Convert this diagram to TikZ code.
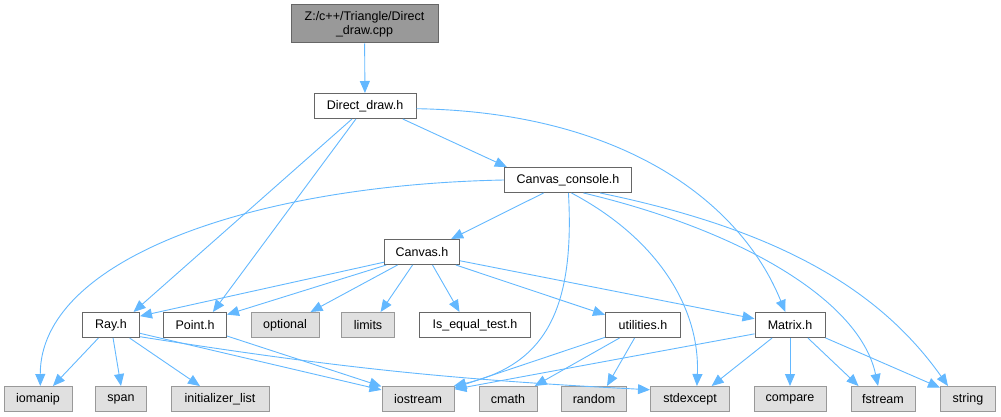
\documentclass[tikz,border=0pt]{standalone}
\usepackage{fontspec}
\setmainfont{Liberation Sans}
\usetikzlibrary{arrows.meta}
\definecolor{edgeBlue}{HTML}{63B8FF}
\definecolor{boxGray}{HTML}{666666}
\definecolor{sysFill}{HTML}{E0E0E0}
\definecolor{sysGray}{HTML}{999999}

\begin{document}
\begin{tikzpicture}[x=1pt, y=-1pt,
    fileNode/.style={draw=boxGray, fill=white, line width=1pt, minimum height=25pt, inner sep=0pt, font=\fontsize{12.5}{14}\selectfont},
    sysNode/.style={fileNode, draw=sysGray, fill=sysFill},
    rootNode/.style={fileNode, fill=sysGray, draw=boxGray, minimum height=38pt, align=center},
    dep/.style={edgeBlue, line width=0.9pt, -{Triangle[length=12pt, width=10pt]}}]
  \useasboundingbox (0,0) rectangle (1001,417);
  \node[rootNode, minimum width=147pt] (root) at (364.5,24) {Z:/c++/Triangle/Direct\\\_draw.cpp};
  \node[fileNode, minimum width=102pt] (direct) at (365,106) {Direct\_draw.h};
  \node[fileNode, minimum width=127pt] (console) at (568,180) {Canvas\_console.h};
  \node[fileNode, minimum width=75pt] (canvas) at (422,252) {Canvas.h};
  \node[fileNode, minimum width=57pt] (ray) at (111,325) {Ray.h};
  \node[fileNode, minimum width=63pt] (point) at (195,325) {Point.h};
  \node[sysNode, minimum width=68pt] (optional) at (285,325) {optional};
  \node[sysNode, minimum width=53pt] (limits) at (368,325) {limits};
  \node[fileNode, minimum width=111pt] (isequal) at (475,325) {Is\_equal\_test.h};
  \node[fileNode, minimum width=75pt] (utilities) at (643,325) {utilities.h};
  \node[fileNode, minimum width=70pt] (matrix) at (790,325) {Matrix.h};
  \node[sysNode, minimum width=68pt] (iomanip) at (38,399) {iomanip};
  \node[sysNode, minimum width=51pt] (span) at (121,399) {span};
  \node[sysNode, minimum width=98pt] (initlist) at (220,399) {initializer\_list};
  \node[sysNode, minimum width=72pt] (iostream) at (418,399) {iostream};
  \node[sysNode, minimum width=58pt] (cmath) at (508,399) {cmath};
  \node[sysNode, minimum width=65pt] (random) at (594,399) {random};
  \node[sysNode, minimum width=79pt] (stdexcept) at (690,399) {stdexcept};
  \node[sysNode, minimum width=72pt] (compare) at (790,399) {compare};
  \node[sysNode, minimum width=64pt] (fstream) at (883,399) {fstream};
  \node[sysNode, minimum width=55pt] (string) at (968,399) {string};

  \draw[dep] (root) -- (direct);
  \draw[dep] (direct.-19) -- (console.168);
  \draw[dep] (direct.-135) -- (ray.30);
  \draw[dep] (direct.-125) -- (point.36);
  \draw[dep] (direct.-3) .. controls (620,112) and (740,200) .. (matrix.110);

  \draw[dep] (console.-152) -- (canvas.24);
  \draw[dep] (console.west) .. controls (250,185) and (40,260) .. (iomanip.80);
  \draw[dep] (console.-88) .. controls (575,310) and (545,365) .. (iostream.20);
  \draw[dep] (console.-75) .. controls (660,240) and (700,310) .. (stdexcept.62);
  \draw[dep] (console.-40) .. controls (740,230) and (860,300) .. (fstream.111);
  \draw[dep] (console.-22) .. controls (780,230) and (880,290) .. (string.147);

  \draw[dep] (canvas.-165) -- (ray.17);
  \draw[dep] (canvas.-160) -- (point.18);
  \draw[dep] (canvas.-152) -- (optional.27);
  \draw[dep] (canvas.-126) -- (limits.46);
  \draw[dep] (canvas.-51) -- (isequal.140);
  \draw[dep] (canvas.-21) -- (utilities.165);
  \draw[dep] (canvas.-13) -- (matrix.170);

  \draw[dep] (ray.-134) -- (iomanip.41);
  \draw[dep] (ray.-81) -- (span.north);
  \draw[dep] (ray.-35) -- (initlist.147);
  \draw[dep] (ray.-16) -- (iostream.166);
  \draw[dep] (ray.-22) to[bend right=3] (stdexcept.167);
  \draw[dep] (point.-19) -- (iostream.161);

  \draw[dep] (utilities.-162) -- (iostream.17);
  \draw[dep] (utilities.-151) -- (cmath.26);
  \draw[dep] (utilities.-123) -- (random.45);

  \draw[dep] (matrix.-166) -- (iostream.15);
  \draw[dep] (matrix.-144) -- (stdexcept.31);
  \draw[dep] (matrix) -- (compare);
  \draw[dep] (matrix.-36) -- (fstream.152);
  \draw[dep] (matrix.-20) -- (string.158);
\end{tikzpicture}
\end{document}
